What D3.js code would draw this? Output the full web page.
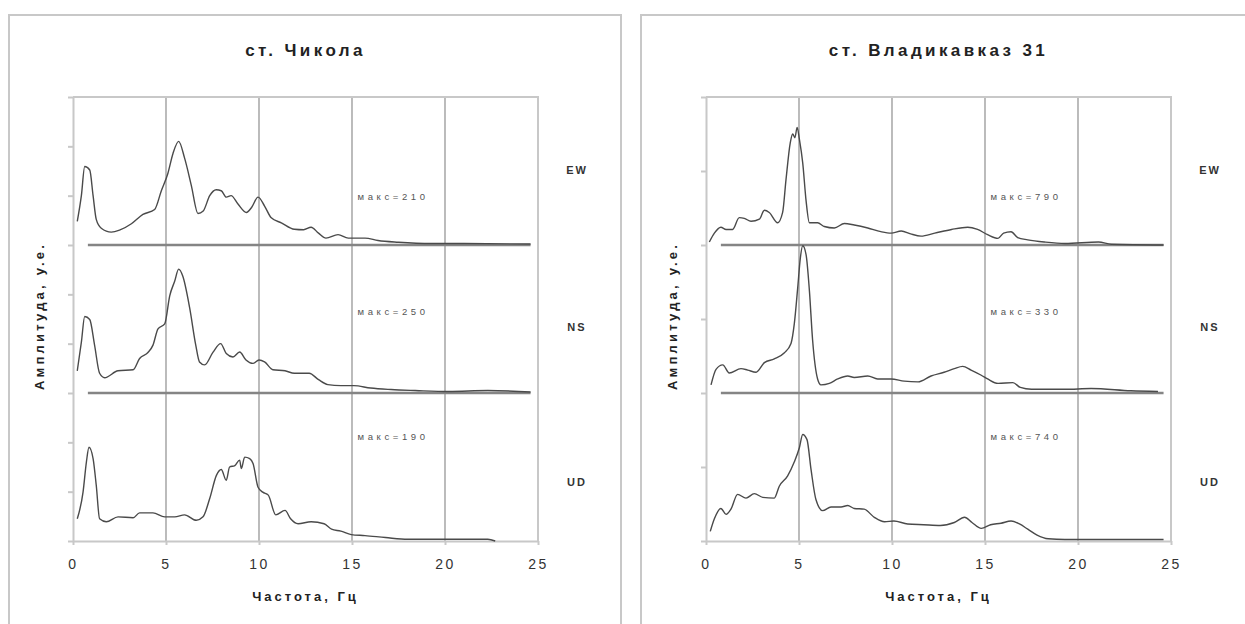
<!DOCTYPE html>
<html>
<head>
<meta charset="utf-8">
<script src="https://cdn.jsdelivr.net/npm/d3@7"></script>
<style>
  body { margin: 0; background: #fff; }
  svg { font-family: "Liberation Sans", Arial, sans-serif; }
</style>
</head>
<body>
<div id="chart"></div>
<script>
// spectra, [frequency Hz, amplitude in tick units]
const chikolaEW = [[0.23,0.48],[0.45,1.0],[0.63,1.59],[0.9,1.52],[1.08,1.0],[1.25,0.52],[1.52,0.34],[2.06,0.26],[2.5,0.30],[3.14,0.43],[3.76,0.62],[4.39,0.72],[4.75,1.10],[5.1,1.45],[5.38,1.86],[5.68,2.10],[6.0,1.76],[6.36,1.21],[6.72,0.64],[7.0,0.69],[7.35,1.0],[7.7,1.12],[7.97,1.10],[8.24,0.97],[8.5,1.0],[8.87,0.83],[9.32,0.66],[9.6,0.76],[9.95,0.97],[10.3,0.79],[10.66,0.55],[11.2,0.45],[11.9,0.32],[12.4,0.31],[12.8,0.36],[13.2,0.24],[13.6,0.14],[14.25,0.21],[14.8,0.14],[15.7,0.14],[16.4,0.09],[17.5,0.055],[19.3,0.03],[21,0.03],[24.6,0.02]];
const chikolaNS = [[0.23,0.45],[0.45,1.03],[0.63,1.55],[0.9,1.49],[1.16,0.97],[1.43,0.40],[1.7,0.31],[2.42,0.45],[3.23,0.47],[3.58,0.70],[4.03,0.82],[4.3,0.97],[4.57,1.30],[4.93,1.40],[5.2,1.97],[5.47,2.27],[5.68,2.51],[5.9,2.37],[6.27,1.73],[6.6,0.97],[6.8,0.63],[7.08,0.57],[7.53,0.83],[7.94,1.0],[8.24,0.80],[8.6,0.73],[8.96,0.83],[9.3,0.67],[9.67,0.60],[10.0,0.67],[10.3,0.63],[10.75,0.47],[11.4,0.45],[11.9,0.40],[12.7,0.40],[13.2,0.27],[13.7,0.17],[14.4,0.15],[15.1,0.15],[16.0,0.10],[17.1,0.07],[18.4,0.05],[20.2,0.03],[22.3,0.05],[24.6,0.02]];
const chikolaUD = [[0.23,0.45],[0.54,0.99],[0.72,1.6],[0.86,1.9],[1.08,1.67],[1.25,1.13],[1.43,0.45],[1.79,0.39],[2.42,0.49],[3.23,0.47],[3.58,0.57],[4.3,0.57],[4.93,0.49],[5.47,0.49],[6.0,0.53],[6.63,0.42],[6.99,0.49],[7.35,0.86],[7.71,1.33],[7.97,1.45],[8.24,1.23],[8.42,1.5],[8.7,1.53],[8.96,1.64],[9.05,1.47],[9.23,1.7],[9.5,1.67],[9.68,1.57],[9.95,1.09],[10.2,0.99],[10.5,0.93],[10.9,0.53],[11.4,0.62],[11.7,0.45],[12.1,0.35],[12.8,0.39],[13.5,0.35],[13.9,0.24],[14.4,0.20],[14.96,0.13],[15.7,0.11],[16.8,0.07],[18.0,0.034],[20.0,0.034],[22.3,0.034],[22.7,0.0]];

const vladEW = [[0.18,0.04],[0.45,0.16],[0.8,0.24],[1.08,0.21],[1.43,0.21],[1.79,0.37],[2.06,0.36],[2.42,0.32],[2.87,0.35],[3.14,0.47],[3.4,0.44],[3.85,0.30],[4.12,0.44],[4.3,0.88],[4.53,1.38],[4.66,1.50],[4.78,1.45],[4.9,1.59],[5.02,1.43],[5.2,1.11],[5.38,0.60],[5.56,0.30],[6.0,0.30],[6.36,0.25],[6.9,0.23],[7.44,0.29],[7.97,0.27],[8.7,0.23],[9.4,0.18],[9.95,0.16],[10.5,0.19],[11.0,0.15],[11.56,0.12],[12.3,0.16],[13.2,0.21],[14.07,0.24],[14.6,0.21],[15.14,0.14],[15.7,0.09],[16.0,0.16],[16.4,0.18],[16.76,0.10],[17.3,0.07],[18.2,0.04],[19.3,0.02],[21.1,0.04],[21.8,0.01],[24.6,0.0]];
const vladNS = [[0.27,0.11],[0.54,0.32],[0.9,0.38],[1.25,0.27],[1.88,0.33],[2.24,0.31],[2.69,0.28],[3.14,0.41],[3.67,0.46],[4.2,0.54],[4.57,0.67],[4.75,0.94],[4.93,1.42],[5.07,1.82],[5.2,1.99],[5.38,1.87],[5.56,1.38],[5.73,0.72],[6.0,0.19],[6.18,0.11],[6.63,0.13],[7.08,0.19],[7.62,0.23],[7.97,0.21],[8.7,0.23],[9.23,0.19],[9.95,0.19],[10.66,0.16],[11.4,0.15],[12.1,0.23],[12.8,0.28],[13.35,0.33],[13.8,0.36],[14.25,0.31],[14.8,0.24],[15.14,0.19],[15.7,0.13],[16.5,0.14],[16.9,0.075],[17.5,0.05],[19.3,0.05],[20.7,0.06],[22.85,0.03],[24.3,0.02]];
const vladUD = [[0.23,0.13],[0.45,0.30],[0.8,0.44],[1.08,0.36],[1.34,0.43],[1.7,0.63],[2.15,0.58],[2.6,0.64],[3.05,0.59],[3.67,0.58],[3.94,0.74],[4.39,0.88],[4.75,1.07],[5.02,1.26],[5.2,1.44],[5.43,1.37],[5.65,0.96],[5.91,0.56],[6.27,0.41],[6.72,0.46],[7.26,0.46],[7.62,0.48],[7.97,0.44],[8.5,0.43],[9.05,0.32],[9.6,0.26],[10.1,0.27],[10.84,0.23],[11.7,0.22],[12.6,0.21],[13.35,0.25],[13.9,0.32],[14.3,0.25],[14.8,0.17],[15.3,0.22],[15.86,0.24],[16.4,0.27],[16.85,0.23],[17.3,0.16],[17.8,0.08],[18.4,0.03],[19.3,0.02],[24.6,0.02]];

const components = ['EW', 'NS', 'UD'];
const chikolaMax = [210, 250, 190];
const vladMax = [790, 330, 740];
const xTicks = [0, 5, 10, 15, 20, 25];
const baselineSpan = [0.8, 24.6];

const W = 1245, H = 624;
const svg = d3.select('#chart')
  .append('svg')
  .attr('width', W)
  .attr('height', H);

const grey = '#c8c8c8';

// panel frames
svg.append('path')
  .attr('d', 'M9,624 V15 H621 V624')
  .attr('fill', 'none').attr('stroke', grey).attr('stroke-width', 2);
svg.append('path')
  .attr('d', 'M641,624 V15 H1245')
  .attr('fill', 'none').attr('stroke', grey).attr('stroke-width', 2);

function drawPanel(opt) {
  const g = svg.append('g');
  const xScale = d3.scaleLinear().domain([0, 25]).range([opt.left, opt.left + 465]);
  const yScale = d3.scaleLinear().domain([0, opt.perChannel * 3]).range([541, 97]);

  // title
  g.append('text')
    .text(opt.title)
    .attr('x', (xScale(0) + xScale(25)) / 2)
    .attr('y', 56)
    .attr('text-anchor', 'middle')
    .style('font-size', '17px')
    .style('font-weight', 'bold')
    .style('letter-spacing', '3.4px')
    .style('fill', '#222');

  // grid + frame
  g.selectAll('.grid')
    .data([5, 10, 15, 20])
    .enter()
    .append('line')
    .attr('x1', d => xScale(d)).attr('x2', d => xScale(d))
    .attr('y1', yScale.range()[1]).attr('y2', yScale.range()[0])
    .attr('stroke', '#ababab').attr('stroke-width', 1.6);
  g.append('path')
    .attr('d', `M${xScale(0)},${yScale.range()[1]} H${xScale(25)} V${yScale.range()[0]}`)
    .attr('fill', 'none').attr('stroke', grey).attr('stroke-width', 2);

  // axes
  const yAxis = d3.axisLeft(yScale).ticks(opt.perChannel * 3).tickFormat('').tickSize(5).tickSizeOuter(0);
  const ya = g.append('g')
    .attr('transform', `translate(${xScale(0)},0)`)
    .call(yAxis);
  ya.selectAll('path, line').attr('stroke', grey).attr('stroke-width', 2);

  const xAxis = d3.axisBottom(xScale).tickValues(xTicks).tickSize(4).tickSizeOuter(0);
  const xa = g.append('g')
    .attr('transform', `translate(0,${yScale(0)})`)
    .call(xAxis);
  xa.selectAll('path, line').attr('stroke', grey).attr('stroke-width', 2);
  xa.selectAll('text')
    .attr('y', 18)
    .style('font-size', '14px')
    .style('letter-spacing', '2.5px')
    .style('fill', '#333')
    .style('font-family', '"Liberation Sans", Arial, sans-serif');

  g.append('text')
    .text('Частота, Гц')
    .attr('x', (xScale(0) + xScale(25)) / 2)
    .attr('y', 601)
    .attr('text-anchor', 'middle')
    .style('font-size', '13px')
    .style('font-weight', 'bold')
    .style('letter-spacing', '3px')
    .style('fill', '#222');

  g.append('text')
    .text('Амплитуда, у.е.')
    .attr('transform', `translate(${xScale(0) - 34},316) rotate(-90)`)
    .attr('text-anchor', 'middle')
    .attr('dominant-baseline', 'central')
    .style('font-size', '13px')
    .style('font-weight', 'bold')
    .style('letter-spacing', '3.2px')
    .style('fill', '#222');

  // zero lines of upper components
  const line = d3.line()
    .x(d => xScale(d[0]))
    .y(d => yScale(d[1]))
    .curve(d3.curveMonotoneX);

  [1, 2].forEach(k => {
    g.append('path')
      .datum(baselineSpan.map(f => [f, k * opt.perChannel]))
      .attr('d', line)
      .attr('fill', 'none')
      .attr('stroke', '#858585')
      .attr('stroke-width', 2.6);
  });

  // spectra
  opt.series.forEach((s, i) => {
    const off = (2 - i) * opt.perChannel;
    g.append('path')
      .datum(s.map(d => [d[0], d[1] + off]))
      .attr('d', line)
      .attr('fill', 'none')
      .attr('stroke', '#4a4a4a')
      .attr('stroke-width', 1.4);
  });

  // labels
  const maxY = [196, 311, 436], compY = [170, 327, 482];
  components.forEach((c, i) => {
    g.append('text')
      .text(`макс=${opt.maxes[i]}`)
      .attr('x', xScale(15.3))
      .attr('y', maxY[i])
      .attr('dominant-baseline', 'central')
      .style('font-size', '9.5px')
      .style('letter-spacing', '3.6px')
      .style('fill', '#555');
    g.append('text')
      .text(c)
      .attr('x', xScale(25) + 39)
      .attr('y', compY[i])
      .attr('text-anchor', 'middle')
      .attr('dominant-baseline', 'central')
      .style('font-size', '11px')
      .style('font-weight', 'bold')
      .style('letter-spacing', '2px')
      .style('fill', '#333');
  });
}

drawPanel({ title: 'ст. Чикола', left: 73, perChannel: 3, series: [chikolaEW, chikolaNS, chikolaUD], maxes: chikolaMax });
drawPanel({ title: 'ст. Владикавказ 31', left: 706, perChannel: 2, series: [vladEW, vladNS, vladUD], maxes: vladMax });
</script>
</body>
</html>
